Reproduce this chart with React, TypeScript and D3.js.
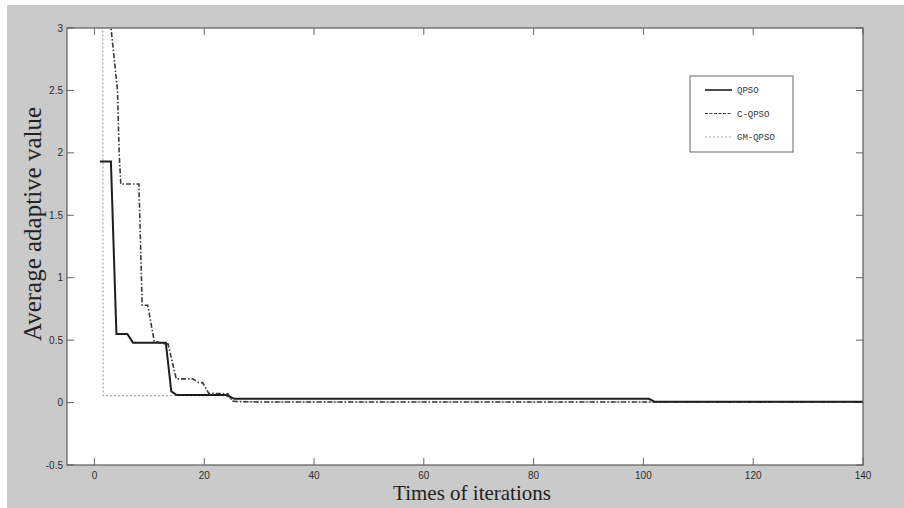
import React, { useRef, useEffect } from 'react';
import * as d3 from 'd3';

// Series data (iteration, average adaptive value)
const qpsoX = [1, 3, 4, 6, 7, 13, 14, 15, 24, 25.5, 101, 102, 140];
const qpsoY = [1.93, 1.93, 0.55, 0.55, 0.48, 0.48, 0.09, 0.06, 0.06, 0.03, 0.03, 0.007, 0.007];

const cqpsoX = [2.9, 4.2, 4.5, 4.8, 8.1, 8.7, 9.7, 10.9, 12.8, 13.4, 14.9, 17.9, 19, 19.7, 20.8, 24.3, 25.2, 30, 140];
const cqpsoY = [3.05, 2.5, 2.0, 1.75, 1.75, 0.78, 0.78, 0.49, 0.47, 0.47, 0.19, 0.19, 0.16, 0.16, 0.075, 0.07, 0.01, 0.004, 0.004];

const gmX = [1.5, 1.6, 24, 25.5, 140];
const gmY = [3.3, 0.055, 0.055, 0.005, 0.005];

const xTicks = [0, 20, 40, 60, 80, 100, 120, 140];
const yTicks = [-0.5, 0, 0.5, 1, 1.5, 2, 2.5, 3];
const legendNames = ['QPSO', 'C-QPSO', 'GM-QPSO'];

const App = () => {
  const svgRef = useRef<SVGSVGElement>(null);

  useEffect(() => {
    const width = 904;
    const height = 508;
    const margin = { top: 28, right: 41, bottom: 43, left: 67 };
    const innerWidth = width - margin.left - margin.right;
    const innerHeight = height - margin.top - margin.bottom;

    const svg = d3.select(svgRef.current);
    svg.selectAll('*').remove();
    svg.attr('width', width).attr('height', height);

    svg.append('rect').attr('width', width).attr('height', height).attr('fill', '#fff');
    svg.append('rect')
      .attr('x', 7).attr('y', 5)
      .attr('width', width - 7).attr('height', height - 5)
      .attr('fill', '#cacaca');

    const x = d3.scaleLinear().domain([-5, 140]).range([0, innerWidth]);
    const y = d3.scaleLinear().domain([-0.5, 3]).range([innerHeight, 0]);

    const chart = svg.append('g')
      .attr('transform', `translate(${margin.left},${margin.top})`);

    chart.append('rect')
      .attr('width', innerWidth).attr('height', innerHeight)
      .attr('fill', '#fff');

    chart.append('clipPath').attr('id', 'plot-clip')
      .append('rect').attr('width', innerWidth).attr('height', innerHeight);

    // tick marks inside the box, on all four sides
    const tickLen = 7;
    const tickColor = '#666';
    xTicks.forEach(t => {
      chart.append('line')
        .attr('x1', x(t)).attr('x2', x(t))
        .attr('y1', innerHeight).attr('y2', innerHeight - tickLen)
        .attr('stroke', tickColor);
      chart.append('line')
        .attr('x1', x(t)).attr('x2', x(t))
        .attr('y1', 0).attr('y2', tickLen)
        .attr('stroke', tickColor);
      chart.append('text')
        .attr('x', x(t)).attr('y', innerHeight + 14)
        .attr('text-anchor', 'middle')
        .attr('font-family', 'Arial, Liberation Sans, sans-serif')
        .attr('font-size', '10px')
        .attr('fill', '#2a2a2a')
        .text(t);
    });
    yTicks.forEach(t => {
      chart.append('line')
        .attr('x1', 0).attr('x2', tickLen)
        .attr('y1', y(t)).attr('y2', y(t))
        .attr('stroke', tickColor);
      chart.append('line')
        .attr('x1', innerWidth).attr('x2', innerWidth - tickLen)
        .attr('y1', y(t)).attr('y2', y(t))
        .attr('stroke', tickColor);
      chart.append('text')
        .attr('x', -4).attr('y', y(t))
        .attr('dy', '0.35em')
        .attr('text-anchor', 'end')
        .attr('font-family', 'Arial, Liberation Sans, sans-serif')
        .attr('font-size', '10px')
        .attr('fill', '#2a2a2a')
        .text(t);
    });

    const series = [
      { xs: gmX, ys: gmY, stroke: '#a8a8a8', width: 1.2, dash: '2,2' },
      { xs: cqpsoX, ys: cqpsoY, stroke: '#3a3a3a', width: 1.6, dash: '5,2,1.5,2' },
      { xs: qpsoX, ys: qpsoY, stroke: '#1e1e1e', width: 2, dash: null as string | null },
    ];

    const line = d3.line<[number, number]>()
      .x(d => x(d[0]))
      .y(d => y(d[1]));

    const lines = chart.append('g').attr('clip-path', 'url(#plot-clip)');
    series.forEach(s => {
      const pts = s.xs.map((v, i) => [v, s.ys[i]] as [number, number]);
      lines.append('path')
        .attr('d', line(pts))
        .attr('fill', 'none')
        .attr('stroke', s.stroke)
        .attr('stroke-width', s.width)
        .attr('stroke-dasharray', s.dash);
    });

    // axes box
    chart.append('rect')
      .attr('width', innerWidth).attr('height', innerHeight)
      .attr('fill', 'none')
      .attr('stroke', '#5a5a5a')
      .attr('stroke-width', 1.2);

    // legend
    const legend = svg.append('g').attr('transform', 'translate(690,76)');
    legend.append('rect')
      .attr('width', 103).attr('height', 76)
      .attr('fill', '#fff')
      .attr('stroke', '#666');
    const legendStyles = [series[2], series[1], series[0]];
    legendNames.forEach((name, i) => {
      const ly = 14 + i * 23.5;
      const s = legendStyles[i];
      legend.append('line')
        .attr('x1', 15).attr('x2', 42)
        .attr('y1', ly).attr('y2', ly)
        .attr('stroke', s.stroke)
        .attr('stroke-width', i === 0 ? 1.6 : 1.2)
        .attr('stroke-dasharray', i === 1 ? '3,1.5' : s.dash);
      legend.append('text')
        .attr('x', 47).attr('y', ly)
        .attr('dy', '0.35em')
        .attr('font-family', 'Liberation Mono, monospace')
        .attr('font-size', '9px')
        .attr('fill', '#333')
        .text(name);
    });

    // axis titles
    svg.append('text')
      .attr('x', margin.left + innerWidth / 2 + 7)
      .attr('y', 500)
      .attr('text-anchor', 'middle')
      .attr('font-family', 'Liberation Serif, Times New Roman, serif')
      .attr('font-size', '21px')
      .attr('fill', '#222')
      .text('Times of iterations');

    svg.append('text')
      .attr('transform', 'translate(41,224) rotate(-90)')
      .attr('text-anchor', 'middle')
      .attr('font-family', 'Liberation Serif, Times New Roman, serif')
      .attr('font-size', '25px')
      .attr('fill', '#222')
      .text('Average adaptive value');
  }, []);

  return <svg ref={svgRef} style={{ position: 'absolute', left: 0, top: 0 }} />;
};

export default App;
